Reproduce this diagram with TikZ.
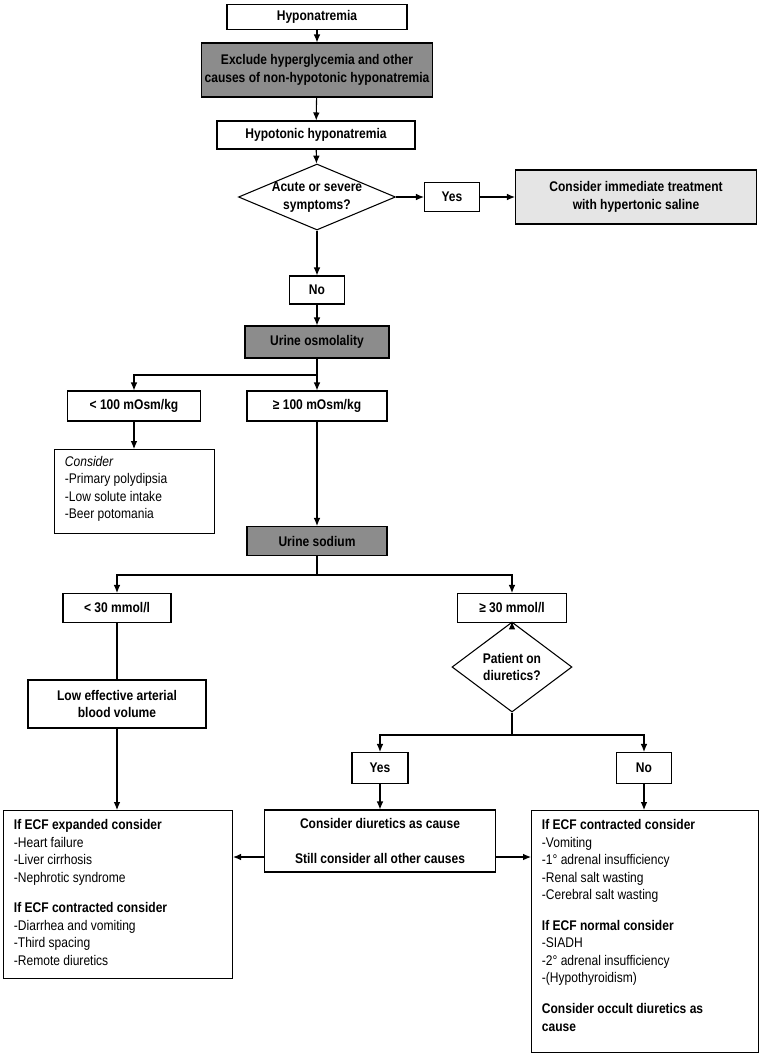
\documentclass[tikz,border=0pt]{standalone}
\usepackage{fontspec}
\setmainfont[FakeStretch=0.86]{Liberation Sans}
\usetikzlibrary{shapes.geometric,arrows.meta}
\begin{document}
\begin{tikzpicture}[x=0.75pt,y=-0.75pt,
  sz/.style 2 args={minimum width=#1*0.75pt,minimum height=#2*0.75pt},
  bf/.style={font=\bfseries\fontsize{10.5}{13}\selectfont},
  box/.style={draw,thick,fill=white,bf,align=center,inner sep=2pt},
  dark/.style={box,fill=black!45},
  light/.style={box,fill=black!10},
  dec/.style={draw,thick,diamond,fill=white,inner sep=0pt},
  frame/.style={draw,thick,fill=white,anchor=north west,inner sep=0pt},
  txt/.style={font=\fontsize{10.5}{13.1}\selectfont,align=left,anchor=north west,inner xsep=8pt,inner ysep=7pt},
  arr/.style={thick,-{Latex[length=6pt,width=5pt]}},
  ln/.style={thick}]
\useasboundingbox (0,0) rectangle (762,1058);
\node[box,sz={180}{25}] (h) at (317,17) {Hyponatremia};
\node[dark,sz={219}{54}] (ex) at (317,70) {Exclude hyperglycemia and other\\causes of non-hypotonic hyponatremia};
\node[box,sz={198}{28}] (ht) at (316,135) {Hypotonic hyponatremia};
\node[dec,sz={157}{66}] (ac) at (317,197) {};
\node[bf,align=center] at (ac) {Acute or severe\\symptoms?};
\node[box,sz={55}{29}] (y1) at (452,197) {Yes};
\node[light,sz={241}{54}] (im) at (636,197) {Consider immediate treatment\\with hypertonic saline};
\node[box,sz={55}{28}] (n1) at (317,290) {No};
\node[dark,sz={144}{32}] (uo) at (317,342) {Urine osmolality};
\node[box,sz={133}{30}] (lo) at (134,406) {< 100 mOsm/kg};
\node[box,sz={140}{30}] (hi) at (317,406) {≥ 100 mOsm/kg};
\node[frame,sz={160}{84}] (cs) at (54,449) {};
\node[txt,inner ysep=5pt] at (54,449) {\textit{Consider}\\-Primary polydipsia\\-Low solute intake\\-Beer potomania};
\node[dark,sz={140}{29}] (us) at (317,541) {Urine sodium};
\node[box,sz={108}{29}] (l30) at (117,608) {< 30 mmol/l};
\node[box,sz={109}{29}] (h30) at (512,608) {≥ 30 mmol/l};
\node[dec,sz={120}{90}] (pd) at (512,667) {};
\node[bf,align=center] at (pd) {Patient on\\diuretics?};
\node[box,sz={178}{48}] (le) at (117,704) {Low effective arterial\\blood volume};
\node[box,sz={56}{31}] (y2) at (380,768) {Yes};
\node[box,sz={55}{31}] (n2) at (644,768) {No};
\node[box,sz={231}{62}] (cd) at (380,841) {Consider diuretics as cause\\[13pt]Still consider all other causes};
\node[frame,sz={229}{168}] (lb) at (3,810) {};
\node[txt] at (3,810) {\textbf{If ECF expanded consider}\\-Heart failure\\-Liver cirrhosis\\-Nephrotic syndrome\\[10pt]\textbf{If ECF contracted consider}\\-Diarrhea and vomiting\\-Third spacing\\-Remote diuretics};
\node[frame,sz={227}{242}] (rb) at (531,810) {};
\node[txt] at (531,810) {\textbf{If ECF contracted consider}\\-Vomiting\\-1° adrenal insufficiency\\-Renal salt wasting\\-Cerebral salt wasting\\[10pt]\textbf{If ECF normal consider}\\-SIADH\\-2° adrenal insufficiency\\-(Hypothyroidism)\\[10pt]\textbf{Consider occult diuretics as}\\\textbf{cause}};
\draw[arr] (h) -- (ex);
\draw[arr] (ex) -- (ht);
\draw[arr] (ht) -- (ac);
\draw[arr] (ac) -- (y1);
\draw[arr] (y1) -- (im);
\draw[arr] (ac) -- (n1);
\draw[arr] (n1) -- (uo);
\coordinate (s1) at (317,375);
\draw[ln] (uo) -- (s1);
\draw[arr] (s1) -| (lo);
\draw[arr] (s1) -- (hi);
\draw[arr] (lo) -- (lo |- cs.north);
\draw[arr] (hi) -- (us);
\coordinate (s2) at (317,575);
\draw[ln] (us) -- (s2);
\draw[arr] (s2) -| (l30);
\draw[arr] (s2) -| (h30);
\draw[arr] (h30) -- (pd);
\draw[ln] (l30) -- (le);
\draw[arr] (le) -- (le |- lb.north);
\coordinate (s3) at (512,735);
\draw[ln] (pd) -- (s3);
\draw[arr] (s3) -| (y2);
\draw[arr] (s3) -| (n2);
\draw[arr] (y2) -- (cd);
\draw[arr] (n2) -- (n2 |- rb.north);
\draw[arr] (cd.west |- 0,857) -- (lb.east |- 0,857);
\draw[arr] (cd.east |- 0,857) -- (rb.west |- 0,857);
\end{tikzpicture}
\end{document}
